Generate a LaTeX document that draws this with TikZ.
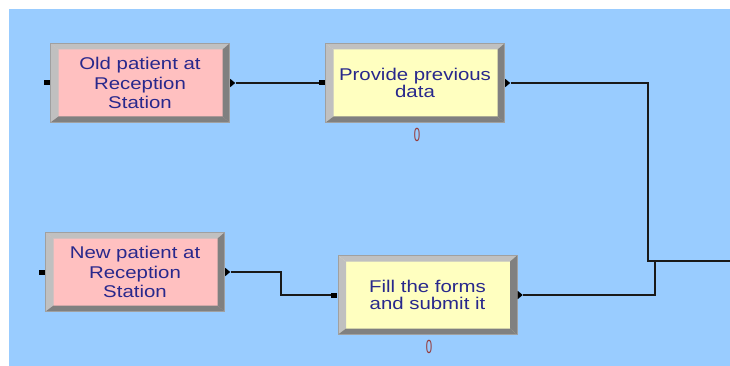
\documentclass[tikz,border=0pt]{standalone}
\usepackage{fontspec}
\usetikzlibrary{shapes.geometric,positioning}
\newfontfamily\modfont[FakeStretch=1.2]{Liberation Sans}
\newfontfamily\cntfont{Liberation Sans}

\definecolor{canvasblue}{RGB}{153,204,255}
\definecolor{createpink}{RGB}{255,192,192}
\definecolor{processyellow}{RGB}{255,255,192}
\definecolor{bevlight}{RGB}{192,192,192}
\definecolor{bevdark}{RGB}{128,128,128}
\definecolor{bevedge}{RGB}{160,160,160}
\definecolor{labelnavy}{RGB}{40,40,140}
\definecolor{countred}{RGB}{150,60,60}
\definecolor{wire}{RGB}{25,25,25}

\tikzset{
  module/.style={
    rectangle, draw=bevedge, line width=1pt, inner sep=0pt,
    minimum width=179pt, minimum height=79pt, align=center,
    text=labelnavy, font=\modfont\fontsize{17}{19.3}\selectfont,
    path picture={
      % raised bevel: light on top/left, dark on right/bottom
      \fill[bevlight] (path picture bounding box.north west) -- (path picture bounding box.north east)
        -- ([xshift=-7pt,yshift=-6pt]path picture bounding box.north east)
        -- ([xshift=8pt,yshift=-6pt]path picture bounding box.north west) -- cycle;
      \fill[bevlight] (path picture bounding box.north west) -- (path picture bounding box.south west)
        -- ([xshift=8pt,yshift=6pt]path picture bounding box.south west)
        -- ([xshift=8pt,yshift=-6pt]path picture bounding box.north west) -- cycle;
      \fill[bevdark] (path picture bounding box.north east) -- (path picture bounding box.south east)
        -- ([xshift=-7pt,yshift=6pt]path picture bounding box.south east)
        -- ([xshift=-7pt,yshift=-6pt]path picture bounding box.north east) -- cycle;
      \fill[bevdark] (path picture bounding box.south west) -- (path picture bounding box.south east)
        -- ([xshift=-7pt,yshift=6pt]path picture bounding box.south east)
        -- ([xshift=8pt,yshift=6pt]path picture bounding box.south west) -- cycle;
    }},
  createmod/.style={module, fill=createpink},
  processmod/.style={module, fill=processyellow, font=\modfont\fontsize{17}{17}\selectfont},
  entrypt/.style={rectangle, fill=black, inner sep=0pt, minimum width=6pt, minimum height=5pt, anchor=east},
  exitpt/.style={isosceles triangle, isosceles triangle apex angle=80, fill=black, inner sep=0pt,
    minimum width=6pt, minimum height=5pt, anchor=west},
  counter/.style={text=countred, font=\cntfont\fontsize{19}{19}\selectfont, inner sep=0pt},
  wireline/.style={draw=wire, line width=1.3pt}
}

\begin{document}
\begin{tikzpicture}[x=1pt,y=-1pt]
  \useasboundingbox (0,0) rectangle (730,366);
  \fill[canvasblue] (9,9) rectangle (730,366);

  % modules
  \node[createmod]  (old)  at (140,83)  {Old patient at\\Reception\\Station};
  \node[processmod] (prov) at (415,83)  {Provide previous\\data};
  \node[createmod]  (new)  at (135,272) {New patient at\\Reception\\Station};
  \node[processmod] (fill) at (427.5,295) {Fill the forms\\and submit it};

  % queue counters
  \node[counter] (provq) at (417,135) {\scalebox{0.6}[1]{0}};
  \node[counter] (fillq) at (429,347) {\scalebox{0.6}[1]{0}};

  % entry and exit points
  \foreach \m in {old,prov,new,fill}{
    \node[entrypt] (\m-in)  at (\m.west) {};
    \node[exitpt]  (\m-out) at (\m.east) {};
  }

  % routing points on the right
  \coordinate (joinA) at (648,261);
  \coordinate (joinB) at (655,261);
  \coordinate (offright) at (730,261);
  \coordinate (stepx) at (281,272);

  % connectors
  \draw[wireline] (old-out.east) -- (prov-in.west);
  \draw[wireline] (new-out.east) -- (stepx) |- (fill-in.west);
  \draw[wireline] (prov-out.east) -| (joinA) -- (offright);
  \draw[wireline] (fill-out.east) -| (joinB);
\end{tikzpicture}
\end{document}
